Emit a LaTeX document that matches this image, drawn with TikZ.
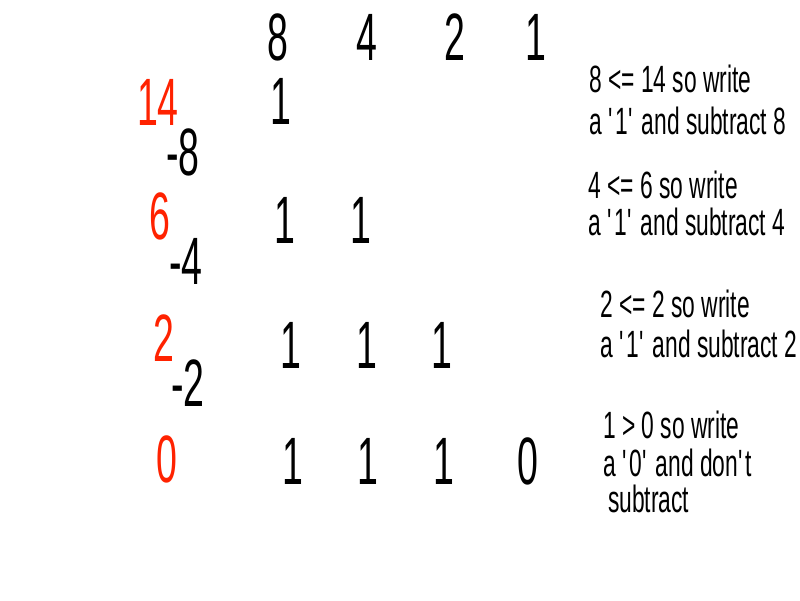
\documentclass[tikz,border=0pt]{standalone}
\usepackage{fontspec}
\newfontfamily\bigdigits{Liberation Sans}[FakeStretch=0.56]
\newfontfamily\notefont{Liberation Sans}[FakeStretch=0.6]
\definecolor{remainder}{HTML}{FF2200}
\newcommand{\sq}{\textquotesingle}

\begin{document}
\begin{tikzpicture}[x=1pt, y=-1pt,
  bignum/.style={inner sep=0pt, font=\bigdigits\fontsize{67}{67}\selectfont},
  remnum/.style={bignum, text=remainder},
  note/.style={anchor=base west, inner sep=0pt, align=left, font=\notefont\fontsize{38}{40}\selectfont}]

\useasboundingbox (0,0) rectangle (800,600);

% Place values
\foreach \v/\x in {8/278, 4/367, 2/455, 1/536}
  \node[bignum] (h\v) at (\x, 37) {\v};

% Remainders (red) and what is taken off
\node[remnum] (r14) at (158, 102) {14};
\node[bignum] (s8) at (183, 152) {-8};
\node[remnum] (r6) at (160, 216) {6};
\node[bignum] (s4) at (186, 261) {-4};
\node[remnum] (r2) at (164, 338) {2};
\node[bignum] (s2) at (188, 383) {-2};
\node[remnum] (r0) at (167, 459) {0};

% Bits written so far
\node[bignum] (a1) at (281, 101) {1};

\node[bignum] (b1) at (285, 220) {1};
\node[bignum] (b2) at (361, 220) {1};

\node[bignum] (c1) at (291, 345) {1};
\node[bignum] (c2) at (367, 345) {1};
\node[bignum] (c3) at (442, 345) {1};

\node[bignum] (d1) at (293, 461) {1};
\node[bignum] (d2) at (368, 461) {1};
\node[bignum] (d3) at (444, 461) {1};
\node[bignum] (d4) at (528, 461) {0};

% Explanations (anchored at the last line's baseline)
\node[note] (n1) at (589, 134) {8 <= 14 so write\\[2pt] a \sq1\sq{} and subtract 8};
\node[note] (n2) at (588, 235) {4 <= 6 so write\\[-3pt] a \sq1\sq{} and subtract 4};
\node[note] (n3) at (600, 357) {2 <= 2 so write\\ a \sq1\sq{} and subtract 2};
\node[note] (n4) at (603, 512) {1 > 0 so write\\[-2pt] a \sq0\sq{} and don\sq t\\[-4pt] \hspace*{5pt}subtract};

\end{tikzpicture}
\end{document}
